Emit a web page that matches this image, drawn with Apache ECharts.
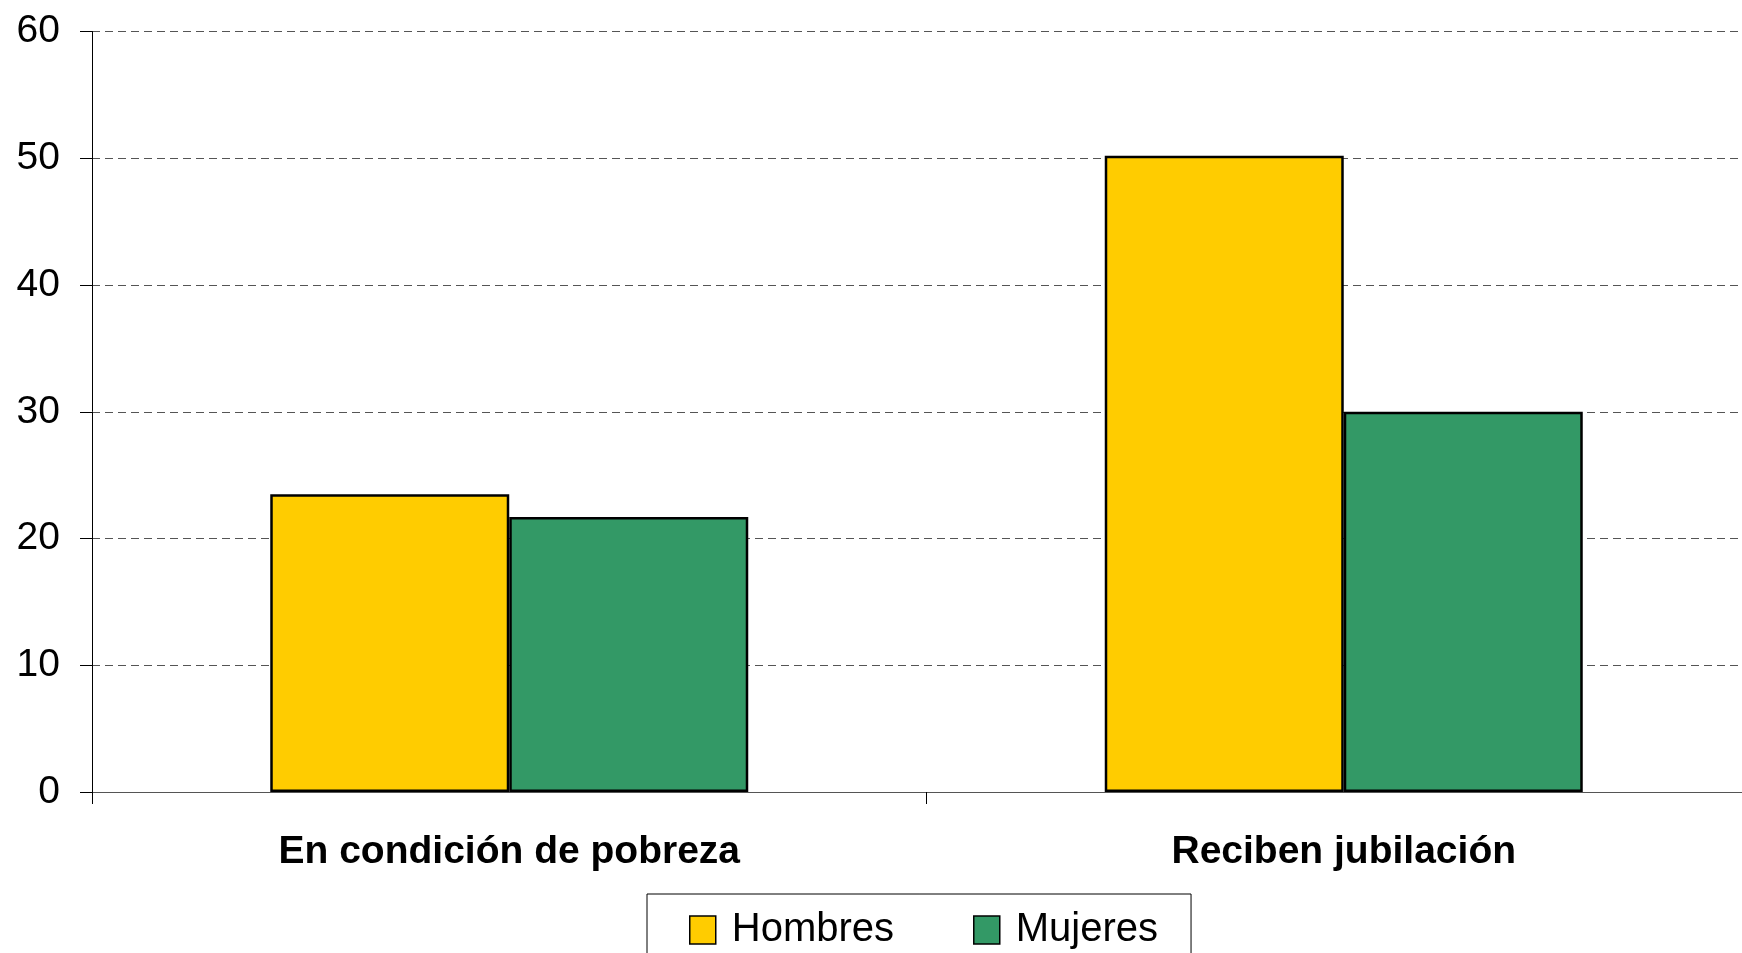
<!DOCTYPE html>
<html>
<head>
    <meta charset="utf-8">
    <title>Pobreza y jubilación</title>
    <script src="https://cdn.jsdelivr.net/npm/echarts@6/dist/echarts.min.js"></script>
    <style>
        html, body { margin: 0; padding: 0; background: #fff; overflow: hidden; }
        /* el área del gráfico se sale un poco por la derecha, como en el original */
        #chart1 { width: 1761px; height: 953px; }
    </style>
</head>
<body>
<div id="chart1"></div>
<script type="text/javascript">
    // datos del gráfico
    var categorias = ['En condición de pobreza', 'Reciben jubilación'];
    var hombres = [23.5, 50.2];
    var mujeres = [21.7, 30.0];
    var ejeY = { min: 0, max: 60, interval: 10 };

    var fuente = 'Liberation Sans, Arial, sans-serif';

    var myChart1 = echarts.init(document.getElementById('chart1'));

    myChart1.setOption({
        animation: false,
        grid: {
            left: 92,
            right: 0,
            top: 31.5,
            bottom: 161
        },
        legend: {
            data: ['Hombres', 'Mujeres'],
            left: 647,
            top: 894,
            itemWidth: 26,
            itemHeight: 28,
            itemGap: 79,
            padding: [16, 33, 40, 42],
            borderColor: '#000',
            borderWidth: 1,
            icon: 'rect',
            itemStyle: { borderColor: '#000', borderWidth: 1.5 },
            textStyle: {
                fontFamily: fuente,
                fontSize: 40,
                color: '#000',
                padding: [0, 0, 0, 11]
            }
        },
        xAxis: {
            type: 'category',
            data: categorias,
            axisLine: { lineStyle: { color: '#555', width: 1 } },
            axisTick: { show: true, length: 12, lineStyle: { color: '#000' } },
            axisLabel: {
                margin: 41,
                fontFamily: fuente,
                fontSize: 39,
                fontWeight: 'bold',
                color: '#000'
            }
        },
        yAxis: {
            type: 'value',
            min: ejeY.min,
            max: ejeY.max,
            interval: ejeY.interval,
            axisLine: { show: true, lineStyle: { color: '#000', width: 1 } },
            axisTick: { show: true, length: 12, lineStyle: { color: '#000' } },
            axisLabel: {
                margin: 32,
                fontFamily: fuente,
                fontSize: 39,
                color: '#000'
            },
            splitLine: {
                lineStyle: { color: '#555', type: [8, 5], width: 1 }
            }
        },
        series: [
            {
                name: 'Hombres',
                type: 'bar',
                data: hombres,
                barWidth: 239,
                barGap: '0%',
                itemStyle: { color: '#FFCC00', borderColor: '#000', borderWidth: 2.5 }
            },
            {
                name: 'Mujeres',
                type: 'bar',
                data: mujeres,
                barWidth: 239,
                barGap: '0%',
                itemStyle: { color: '#339966', borderColor: '#000', borderWidth: 2.5 }
            }
        ]
    });
</script>
</body>
</html>
